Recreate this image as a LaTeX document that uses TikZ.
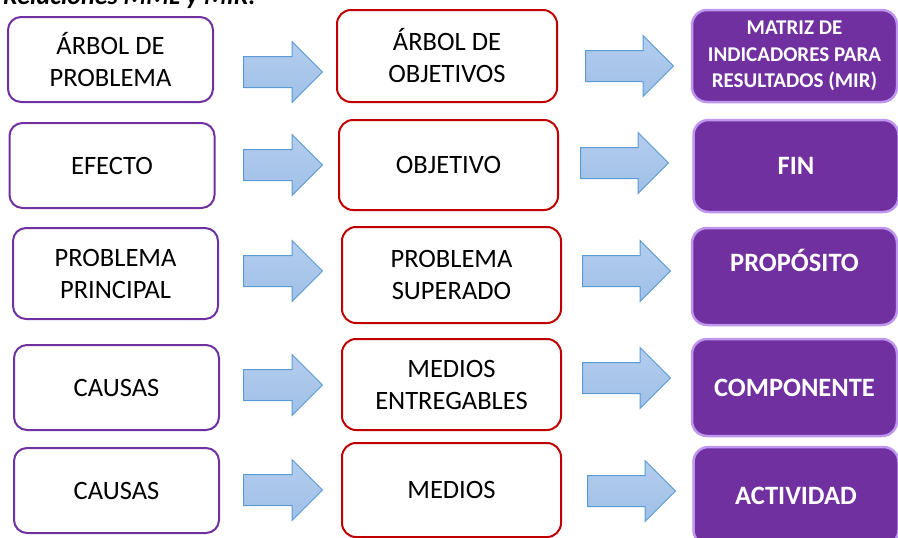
\documentclass[tikz,border=0pt]{standalone}
\usepackage{fontspec}
\setmainfont{Carlito}
\usetikzlibrary{shapes.arrows}

\definecolor{morado}{RGB}{112,48,160}
\definecolor{lila}{RGB}{190,150,240}
\definecolor{rojo}{RGB}{192,0,0}
\definecolor{azul}{RGB}{160,192,232}
\definecolor{azulborde}{RGB}{91,155,213}

\tikzstyle{arbol} = [rectangle, draw=morado, line width=2pt, rounded corners=13pt,
     align=center, minimum width=205pt, minimum height=85pt,
     font=\fontsize{26.5}{32}\selectfont]
\tikzstyle{objetivo} = [rectangle, draw=rojo, line width=2pt, rounded corners=14pt,
     align=center, minimum width=219pt, minimum height=92pt,
     font=\fontsize{26.5}{32}\selectfont]
\tikzstyle{mir} = [rectangle, fill=morado, draw=lila, line width=2.5pt, rounded corners=15pt,
     align=center, text=white, minimum width=205pt, minimum height=96pt,
     font=\fontsize{26.5}{32}\selectfont\bfseries]
\tikzstyle{flecha} = [single arrow, draw=azulborde, top color=azul!80!white, bottom color=azul, line width=1pt,
     inner xsep=0pt, inner ysep=15pt, single arrow head extend=15pt, minimum height=79pt, anchor=tail]

\begin{document}
\begin{tikzpicture}[x=1pt, y=-1pt]
    \useasboundingbox (0,0) rectangle (898,538);
    \clip (0,0) rectangle (898,538);

    % Title
    \node [anchor=base west, inner sep=0pt, font=\fontsize{26}{32}\selectfont\bfseries\itshape] (titulo) at (3,5) {Relaciones MML y MIR.};

    % Place nodes
    \node [arbol] (arbol_problema) at (110.5,59.5) {ÁRBOL DE\\PROBLEMA};
    \node [arbol] (efecto) at (112,165.5) {EFECTO};
    \node [arbol, minimum height=91pt] (problema_principal) at (115.5,273.5) {PROBLEMA\\PRINCIPAL};
    \node [arbol] (causas_a) at (116.5,387.5) {CAUSAS};
    \node [arbol] (causas_b) at (116.5,490.5) {CAUSAS};

    \node [flecha] (flecha_a1) at (243,72) {};
    \node [flecha] (flecha_a2) at (243,165) {};
    \node [flecha] (flecha_a3) at (243,271) {};
    \node [flecha] (flecha_a4) at (243,385) {};
    \node [flecha] (flecha_a5) at (243,490) {};

    \node [objetivo, minimum width=220pt] (arbol_objetivos) at (447,56) {ÁRBOL DE\\OBJETIVOS};
    \node [objetivo, minimum height=90pt] (objetivo) at (448.5,165) {OBJETIVO};
    \node [objetivo, minimum height=96pt] (problema_superado) at (451.5,275) {PROBLEMA\\SUPERADO};
    \node [objetivo, minimum height=91pt] (medios_entregables) at (451.5,384.5) {MEDIOS\\ENTREGABLES};
    \node [objetivo, minimum height=94pt] (medios) at (451.5,490) {MEDIOS};

    \node [flecha, minimum height=88pt] (flecha_b1) at (585,66) {};
    \node [flecha, minimum height=88pt] (flecha_b2) at (580,163) {};
    \node [flecha, minimum height=88pt] (flecha_b3) at (582,271) {};
    \node [flecha, minimum height=88pt] (flecha_b4) at (582,378) {};
    \node [flecha, minimum height=88pt] (flecha_b5) at (587,491) {};

    \node [mir, minimum height=92pt, font=\fontsize{21}{26.5}\selectfont\bfseries] (matriz) at (794.5,56) {MATRIZ DE\\INDICADORES PARA\\RESULTADOS (MIR)};
    \node [mir, minimum height=92pt] (fin) at (796,166) {FIN};
    \node [mir, minimum height=97pt] (proposito) at (794.5,276.5) {PROPÓSITO\\~};
    \node [mir, minimum height=97pt] (componente) at (794.5,387.5) {COMPONENTE};
    \node [mir, minimum height=98pt] (actividad) at (796,496) {ACTIVIDAD};

\end{tikzpicture}
\end{document}
